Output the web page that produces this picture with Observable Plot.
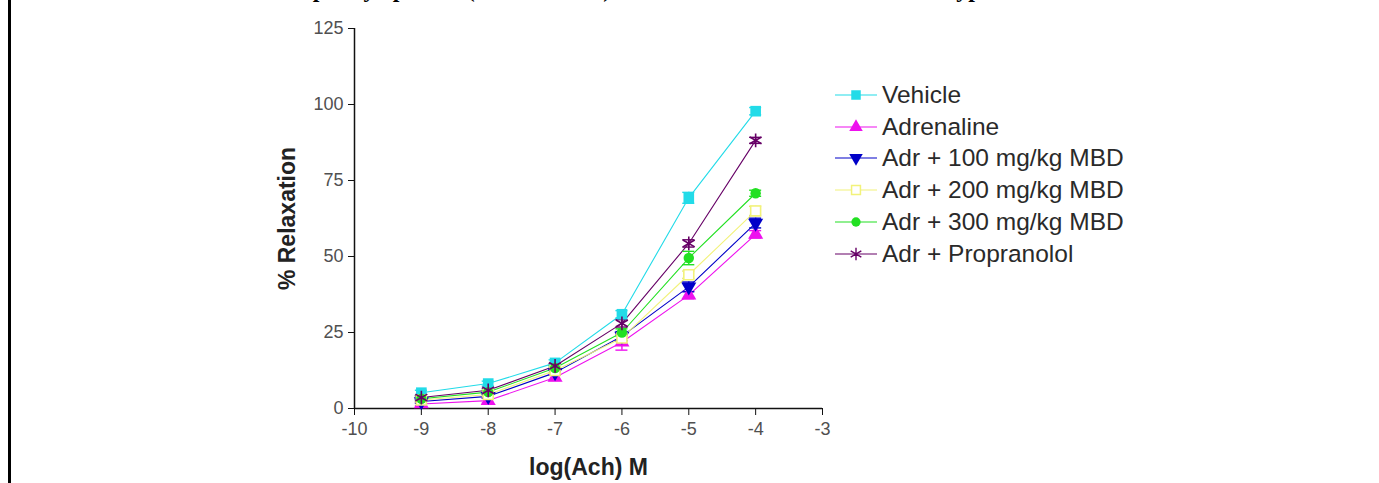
<!DOCTYPE html>
<html>
<head>
<meta charset="utf-8">
<script src="https://cdn.jsdelivr.net/npm/d3@7"></script>
<script src="https://cdn.jsdelivr.net/npm/@observablehq/plot@0.6"></script>
<style>
  html, body { margin: 0; padding: 0; background: #fff; }
  #wrap { position: relative; width: 1379px; height: 483px; overflow: hidden; background: #fff; }
  #wrap svg.plot { position: absolute; left: 0; top: 0; }
  #title { position: absolute; left: 0; width: 1379px; top: -23px; text-align: center; font-family: "Liberation Serif", "DejaVu Serif", serif; font-weight: bold; font-size: 24px; line-height: 24px; color: #000; white-space: nowrap; padding-left: 10px; box-sizing: border-box; }
  #border { position: absolute; left: 8px; top: 0; width: 3px; height: 483px; background: #000; }
  #legend { position: absolute; left: 833px; top: 79px; font-family: Arial, "Liberation Sans", sans-serif; font-size: 24.5px; color: #2a2a2a; }
  #legend .row { height: 31.8px; display: flex; align-items: center; }
  #legend svg { display: block; margin-right: 3px; }
</style>
</head>
<body>
<div id="wrap">
  <div id="border"></div>
  <div id="title">phenylephrine (10⁻⁹–10⁻⁴ M) in rats with adrenaline induced hypertension</div>
  <div id="legend"></div>
</div>
<script>
// ---- data ----
const logAch = [-9, -8, -7, -6, -5, -4];
const seriesNames = ["Vehicle", "Adrenaline", "Adr + 100 mg/kg MBD", "Adr + 200 mg/kg MBD", "Adr + 300 mg/kg MBD", "Adr + Propranolol"];
const vehicle     = [5.2, 8.2, 15.0, 31.0, 69.3, 97.8];
const adrenaline  = [1.5, 2.6, 10.2, 21.8, 37.3, 57.3];
const adr100      = [2.3, 4.0, 11.8, 23.8, 40.0, 61.0];
const adr200      = [2.8, 4.6, 12.5, 23.2, 44.0, 65.0];
const adr300      = [3.2, 5.4, 13.3, 25.0, 49.5, 70.8];
const propranolol = [3.6, 6.0, 14.0, 28.0, 54.3, 88.2];
// SEM (error bars)
const vehicleErr     = [0.8, 0.8, 1.0, 1.2, 1.8, 1.2];
const adrenalineErr  = [0.6, 0.8, 1.0, 2.6, 1.2, 1.2];
const adr100Err      = [0.6, 0.6, 0.8, 1.5, 1.6, 1.6];
const adr200Err      = [0.6, 0.6, 0.8, 1.2, 1.2, 1.5];
const adr300Err      = [0.6, 0.6, 0.8, 1.2, 2.2, 1.0];
const propranololErr = [0.6, 0.6, 0.8, 1.2, 1.2, 1.0];
const yTicks = [0, 25, 50, 75, 100, 125];
const xTicks = [-10, -9, -8, -7, -6, -5, -4, -3];

const values = [vehicle, adrenaline, adr100, adr200, adr300, propranolol];
const errors = [vehicleErr, adrenalineErr, adr100Err, adr200Err, adr300Err, propranololErr];
const colors = ["#22dbe8", "#ee11ee", "#0000c8", "#f2f27a", "#22e022", "#660066"];
const symbols = ["square", "triangle", "triangle", "square", "circle", "asterisk"];
const rotates = [0, 0, 180, 0, 0, 0];
const radii = [6, 5.6, 5.6, 5.6, 5.2, 6.5];

const data = [];
seriesNames.forEach((s, i) => logAch.forEach((x, j) => data.push({series: s, idx: i, x, y: values[i][j], e: errors[i][j]})));

const font = "Arial, Liberation Sans, sans-serif";
const marks = [];
// axis lines
marks.push(Plot.ruleY([0], {x1: -10, x2: -3, stroke: "#111", strokeWidth: 1.5}));
marks.push(Plot.ruleX([-10], {y1: 0, y2: 125, stroke: "#111", strokeWidth: 1.5}));
marks.push(Plot.axisY({ticks: yTicks, tickSize: 6, tickPadding: 5, stroke: "#111", fill: "#505050", label: null}));
marks.push(Plot.axisX({ticks: xTicks, tickSize: 7, tickPadding: 7, stroke: "#111", fill: "#505050", label: null, tickFormat: d => String(d)}));
marks.push(Plot.text(["% Relaxation"], {frameAnchor: "left", dx: -67, rotate: -90, fontWeight: "bold", fontSize: 23, fill: "#222", fontFamily: font, textAnchor: "middle", lineAnchor: "middle"}));
marks.push(Plot.text(["log(Ach) M"], {frameAnchor: "bottom", dy: 59, fontWeight: "bold", fontSize: 23, fill: "#222", fontFamily: font, textAnchor: "middle", lineAnchor: "middle"}));

seriesNames.forEach((s, i) => {
  const d = data.filter(r => r.idx === i);
  marks.push(Plot.line(d, {x: "x", y: "y", stroke: colors[i], strokeWidth: 1.1}));
});
seriesNames.forEach((s, i) => {
  const d = data.filter(r => r.idx === i);
  const ec = i === 3 ? "#e0e060" : colors[i];
  marks.push(Plot.ruleX(d, {x: "x", y1: r => r.y - r.e, y2: r => r.y + r.e, stroke: ec, strokeWidth: 1.4}));
  marks.push(Plot.ruleY(d, {y: r => r.y - r.e, x1: r => r.x - 0.09, x2: r => r.x + 0.09, stroke: ec, strokeWidth: 1.4}));
  marks.push(Plot.ruleY(d, {y: r => r.y + r.e, x1: r => r.x - 0.09, x2: r => r.x + 0.09, stroke: ec, strokeWidth: 1.4}));
});
seriesNames.forEach((s, i) => {
  const d = data.filter(r => r.idx === i);
  const opts = {x: "x", y: "y", symbol: symbols[i], r: radii[i], rotate: rotates[i]};
  if (symbols[i] === "asterisk") Object.assign(opts, {stroke: colors[i], strokeWidth: 1.6, fill: "none"});
  else if (i === 3) Object.assign(opts, {stroke: colors[i], strokeWidth: 1.6, fill: "#ffffff"});
  else Object.assign(opts, {fill: colors[i], stroke: "none"});
  marks.push(Plot.dot(d, opts));
});

const chart = Plot.plot({
  width: 1379, height: 483,
  marginLeft: 354, marginRight: 557, marginTop: 28, marginBottom: 75,
  x: {domain: [-10, -3], axis: null},
  y: {domain: [0, 125], axis: null},
  style: {background: "transparent", overflow: "visible", fontSize: "18px", fontFamily: font},
  marks
});
chart.classList.add("plot");
document.getElementById("wrap").prepend(chart);

// legend
const legend = document.getElementById("legend");
seriesNames.forEach((s, i) => {
  const row = document.createElement("div");
  row.className = "row";
  const svg = d3.create("svg").attr("width", 46).attr("height", 20);
  svg.append("line").attr("x1", 2).attr("x2", 44).attr("y1", 10).attr("y2", 10).attr("stroke", colors[i]).attr("stroke-width", 1.2);
  const size = Math.PI * radii[i] * radii[i] * 0.8;
  const symMap = {square: d3.symbolSquare, triangle: d3.symbolTriangle, circle: d3.symbolCircle, asterisk: d3.symbolAsterisk};
  const p = svg.append("path").attr("d", d3.symbol(symMap[symbols[i]], size)()).attr("transform", `translate(23,10) rotate(${rotates[i]})`);
  if (symbols[i] === "asterisk") p.attr("fill", "none").attr("stroke", colors[i]).attr("stroke-width", 1.4);
  else if (i === 3) p.attr("fill", "#fff").attr("stroke", colors[i]).attr("stroke-width", 1.5);
  else p.attr("fill", colors[i]);
  row.appendChild(svg.node());
  const t = document.createElement("span");
  t.textContent = s;
  row.appendChild(t);
  legend.appendChild(row);
});
</script>
</body>
</html>
